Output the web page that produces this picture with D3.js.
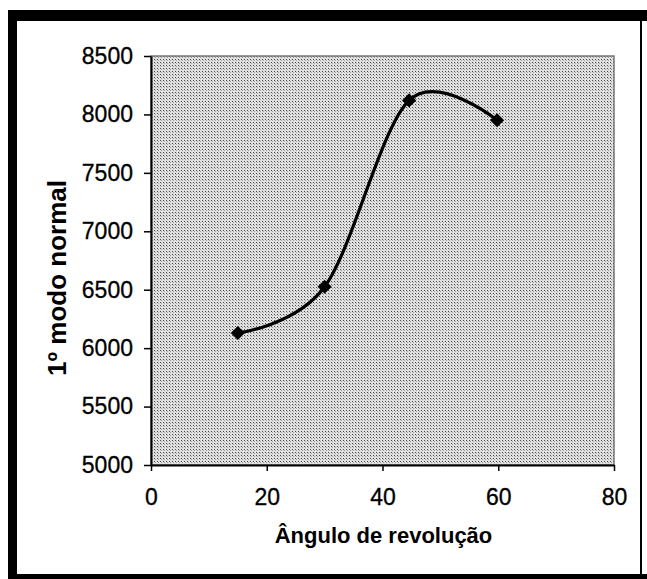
<!DOCTYPE html>
<html>
<head>
<meta charset="utf-8">
<script src="https://cdn.jsdelivr.net/npm/d3@7"></script>
<style>
  body { margin: 0; background: #fff; }
  svg { display: block; font-family: "Liberation Sans", Arial, sans-serif; }
</style>
</head>
<body>
<svg width="647" height="579"></svg>
<script>
// data
var angles = [15, 30, 44.6, 59.8];
var modes = [6130, 6525, 8120, 7950];
var xTicks = [0, 20, 40, 60, 80];
var yTicks = [5000, 5500, 6000, 6500, 7000, 7500, 8000, 8500];
var xTitle = "Ângulo de revolução";
var yTitle = "1º modo normal";

var svg = d3.select("svg"),
	margin = {top: 56, right: 33, bottom: 114, left: 151},
	width = 647 - margin.left - margin.right,
	height = 579 - margin.top - margin.bottom;

// dotted fill of the plot area
var defs = svg.append("defs");
var pat = defs.append("pattern")
	.attr("id", "dots")
	.attr("width", 3).attr("height", 3)
	.attr("patternUnits", "userSpaceOnUse");
pat.append("rect").attr("width", 3).attr("height", 3).attr("fill", "#e0e0e0");
pat.append("rect").attr("width", 1).attr("height", 1).attr("fill", "#4a4a4a");
pat.append("rect").attr("x", 1).attr("y", 1).attr("width", 1).attr("height", 1).attr("fill", "#a0a0a0");

// scanned frame
svg.append("rect").attr("x", 8).attr("y", 10).attr("width", 639).attr("height", 11).attr("fill", "#000");
svg.append("rect").attr("x", 8).attr("y", 10).attr("width", 9).attr("height", 569).attr("fill", "#000");
svg.append("rect").attr("x", 8).attr("y", 574).attr("width", 639).attr("height", 5).attr("fill", "#000");
svg.append("rect").attr("x", 640).attr("y", 10).attr("width", 2).attr("height", 569).attr("fill", "#000");

var g = svg.append("g").attr("transform", "translate(" + margin.left + "," + margin.top + ")");

var x = d3.scaleLinear().domain([0, 80]).range([0, width]);
var y = d3.scaleLinear().domain([5000, 8500]).range([height, 0]);

g.append("rect")
	.attr("width", width)
	.attr("height", height)
	.attr("fill", "url(#dots)")
	.attr("stroke", "#777")
	.attr("stroke-width", 1.5);

var xAxis = g.append("g")
	.attr("transform", "translate(0," + height + ")")
	.call(d3.axisBottom(x).tickValues(xTicks).tickSize(6).tickPadding(18).tickSizeOuter(0));
var yAxis = g.append("g")
	.call(d3.axisLeft(y).tickValues(yTicks).tickFormat(d3.format("d")).tickSize(7).tickPadding(11).tickSizeOuter(0));

[xAxis, yAxis].forEach(function(a) {
	a.select(".domain").attr("stroke", "#000").attr("stroke-width", 2);
	a.selectAll(".tick line").attr("stroke", "#000").attr("stroke-width", 1.5);
	a.selectAll(".tick text")
		.attr("font-family", "Liberation Sans, Arial, sans-serif")
		.attr("font-size", 23)
		.attr("fill", "#000")
		.attr("stroke", "#000")
		.attr("stroke-width", 0.3);
});

var line = d3.line()
	.x(function(d, i) { return x(angles[i]); })
	.y(function(d) { return y(d); })
	.curve(d3.curveCardinal.tension(0));

g.append("path")
	.datum(modes)
	.attr("fill", "none")
	.attr("stroke", "#000")
	.attr("stroke-width", 3.2)
	.attr("d", line);

g.selectAll(".pt")
	.data(modes)
	.enter().append("path")
		.attr("class", "pt")
		.attr("transform", function(d, i) { return "translate(" + x(angles[i]) + "," + y(d) + ") rotate(45)"; })
		.attr("d", d3.symbol().type(d3.symbolSquare).size(100))
		.attr("fill", "#000");

svg.append("text")
	.attr("x", margin.left + width / 2 + 1)
	.attr("y", 543)
	.attr("text-anchor", "middle")
	.attr("font-size", 22)
	.attr("font-weight", "bold")
	.text(xTitle);

svg.append("text")
	.attr("transform", "translate(66,278) rotate(-90)")
	.attr("text-anchor", "middle")
	.attr("font-size", 26)
	.attr("font-weight", "bold")
	.text(yTitle);
</script>
</body>
</html>
